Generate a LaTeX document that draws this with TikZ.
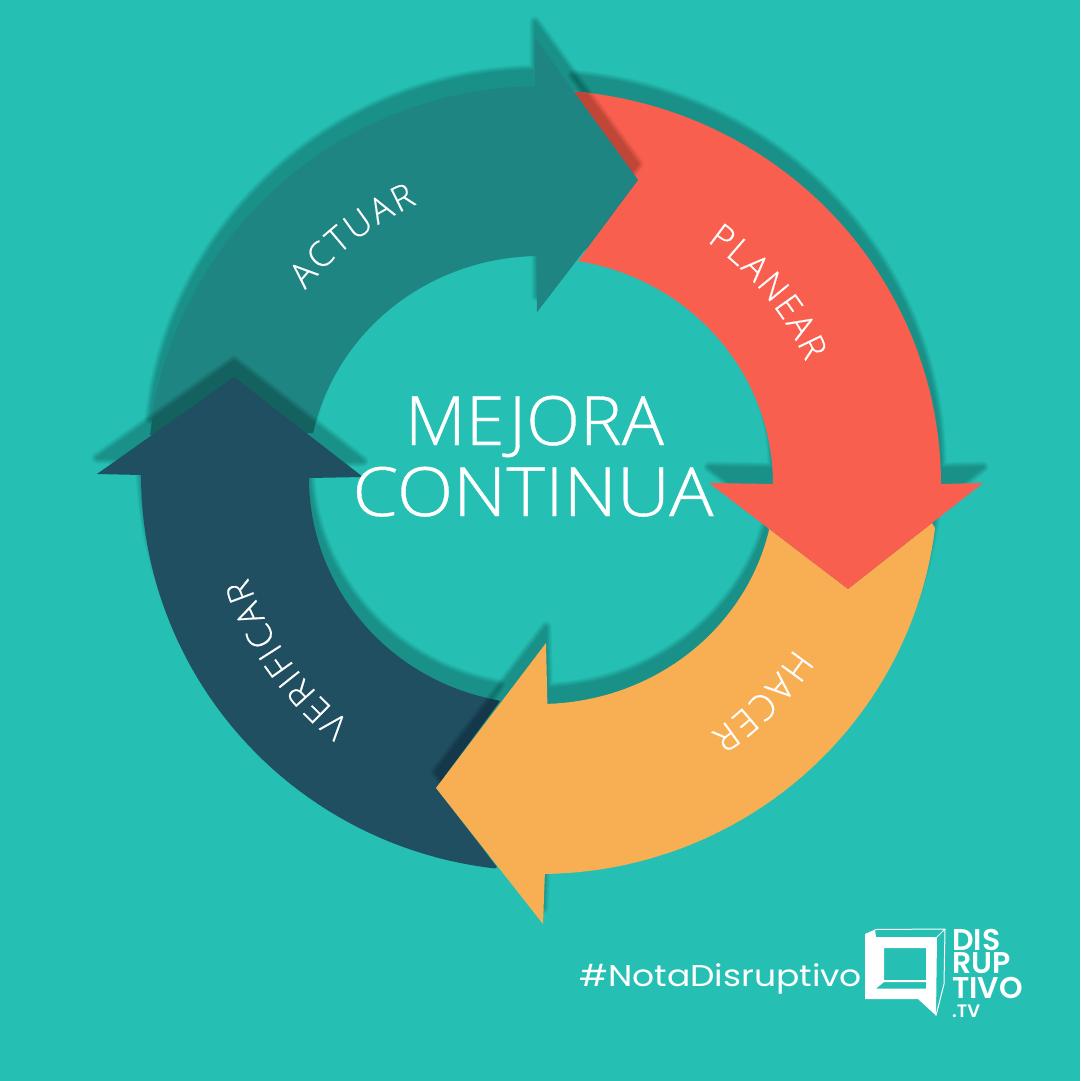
\documentclass[tikz,border=0pt]{standalone}
\usepackage{fontspec}
\usetikzlibrary{decorations.text}
\setmainfont{Lato}
\newfontfamily\lightf[FakeBold=0.5]{Open Sans Light}
\newfontfamily\tagf{Poppins}
\newfontfamily\logof{Poppins SemiBold}
\definecolor{bgc}{HTML}{25BFB4}
\definecolor{actc}{HTML}{1F8582}
\definecolor{verc}{HTML}{204F61}
\definecolor{hacc}{HTML}{F8AF53}
\definecolor{plac}{HTML}{F95F4F}
\def\actuarpath{plot[domain=90.7:169,samples=50] ({540+393*cos(\x)},{-479+393*sin(\x)}) -- (150,-435) -- (312,-433) -- plot[domain=168:90.7,samples=40] ({540+232*cos(\x)},{-480+224*sin(\x)}) -- (537,-312) -- (638,-180) -- (535,-38) -- cycle}
\def\verpath{plot[domain=180:263.5,samples=50] ({540+399*cos(\x)},{-475+396*sin(\x)}) -- (497,-867) -- (436,-788) -- (500,-701) -- plot[domain=259:180,samples=40] ({540+231*cos(\x)},{-478+226*sin(\x)}) -- (363,-477) -- (234,-377) -- (97,-474) -- cycle}
\def\hacpath{plot[domain=270.7:353,samples=50] ({540+398*cos(\x)},{-480+394*sin(\x)}) -- (932,-523) -- (848,-589) -- (768,-528) -- plot[domain=348:271.8,samples=40] ({540+235*cos(\x)},{-480+224*sin(\x)}) -- (546,-643) -- (436,-788) -- (543,-924) -- cycle}
\def\plapath{plot[domain=85.3:0,samples=50] ({540+401*cos(\x)},{-484+394*sin(\x)}) -- (983,-483) -- (848,-589) -- (709,-483) -- (773,-484) -- plot[domain=0:80.6,samples=40] ({540+233*cos(\x)},{-484+226*sin(\x)}) -- (638,-180) -- cycle}
\newcommand\softshadow[1]{%
  \begin{scope}[yshift=16pt]
  \foreach \w in {0.5,1.5,2.5,3.5,4.5,5.5,6.5,7.5,8.5,9.5,10.5,11.5}{%
    \begin{scope}[transparency group,opacity=.018]
      \filldraw[black,line width=\w pt,line join=round] #1;
    \end{scope}}
  \end{scope}}
\tikzset{lbl/.style={decorate,decoration={text along path,text align={fit to path},text color=white}}}
\begin{document}
\begin{tikzpicture}[x=1pt,y=1pt]
\useasboundingbox (0,0) rectangle (1080,-1081);
\fill[bgc] (0,0) rectangle (1080,-1081);
\softshadow{\actuarpath}
\fill[actc] \actuarpath;
\softshadow{\verpath}
\fill[verc] \verpath;
\softshadow{\hacpath}
\fill[hacc] \hacpath;
\softshadow{\plapath}
\fill[plac] \plapath;
\begin{scope}
  \clip \plapath;
  \softshadow{\actuarpath}
\end{scope}
\fill[actc] (535,-38) -- (638,-180) -- (537,-312) -- cycle;
% labels on arcs
\path[lbl,decoration={text={|\lightf\fontsize{35}{35}\selectfont\color{white}|ACTUAR}}] plot[domain=141:114,samples=30] ({540+302*cos(\x)},{-480+302*sin(\x)});
\path[lbl,decoration={text={|\lightf\fontsize{35}{35}\selectfont\color{white}|PLANEAR}}] plot[domain=55:24,samples=30] ({540+291*cos(\x)},{-480+291*sin(\x)});
\path[lbl,decoration={text={|\lightf\fontsize{36}{36}\selectfont\color{white}|HACER}}] plot[domain=-33.5:-56,samples=30] ({540+305*cos(\x)},{-480+305*sin(\x)});
\path[lbl,decoration={text={|\lightf\fontsize{35}{35}\selectfont\color{white}|VERIFICAR}}] plot[domain=232:198.5,samples=40] ({540+308*cos(\x)},{-480+308*sin(\x)});
\node[text=white,font=\lightf\fontsize{68}{68}\selectfont,inner sep=0pt,anchor=base] (mejora) at (534.5,-445) {\scalebox{1.035}[1]{MEJORA}};
\node[text=white,font=\lightf\fontsize{68}{68}\selectfont,inner sep=0pt,anchor=base] (continua) at (533,-516) {\scalebox{1.085}[1]{CONTINUA}};
\node[text=white,font=\tagf\fontsize{30}{30}\selectfont,inner sep=0pt,anchor=base west] (tag) at (579,-986) {\scalebox{1.15}[1]{\#NotaDisruptivo}};
% logo
\fill[white,even odd rule] (875,-929.5) -- (865,-934) -- (865,-999) -- (918,-999) -- (936,-1015.5) -- (937,-937) -- (876,-937) -- cycle
  (884,-948) rectangle (926,-980)
  (884,-982) -- (926,-982) -- (926,-988.5) -- (876,-988.5) -- cycle;
\draw[white,line width=1pt,line join=round] (875,-929.5) -- (945,-929) -- (937,-937);
\draw[white,line width=1pt,line join=round] (945,-929) -- (944,-984) -- (936,-1015.5);
\node[text=white,font=\logof\fontsize{30}{30}\selectfont,inner sep=0pt,anchor=base west] (d1) at (952,-950) {DIS};
\node[text=white,font=\logof\fontsize{30}{30}\selectfont,inner sep=0pt,anchor=base west] (d2) at (952,-973) {RUP};
\node[text=white,font=\logof\fontsize{30}{30}\selectfont,inner sep=0pt,anchor=base west] (d3) at (952,-998) {TIVO};
\node[text=white,font=\logof\fontsize{18}{18}\selectfont,inner sep=0pt,anchor=base west] (d4) at (952,-1017) {.TV};
\end{tikzpicture}
\end{document}
